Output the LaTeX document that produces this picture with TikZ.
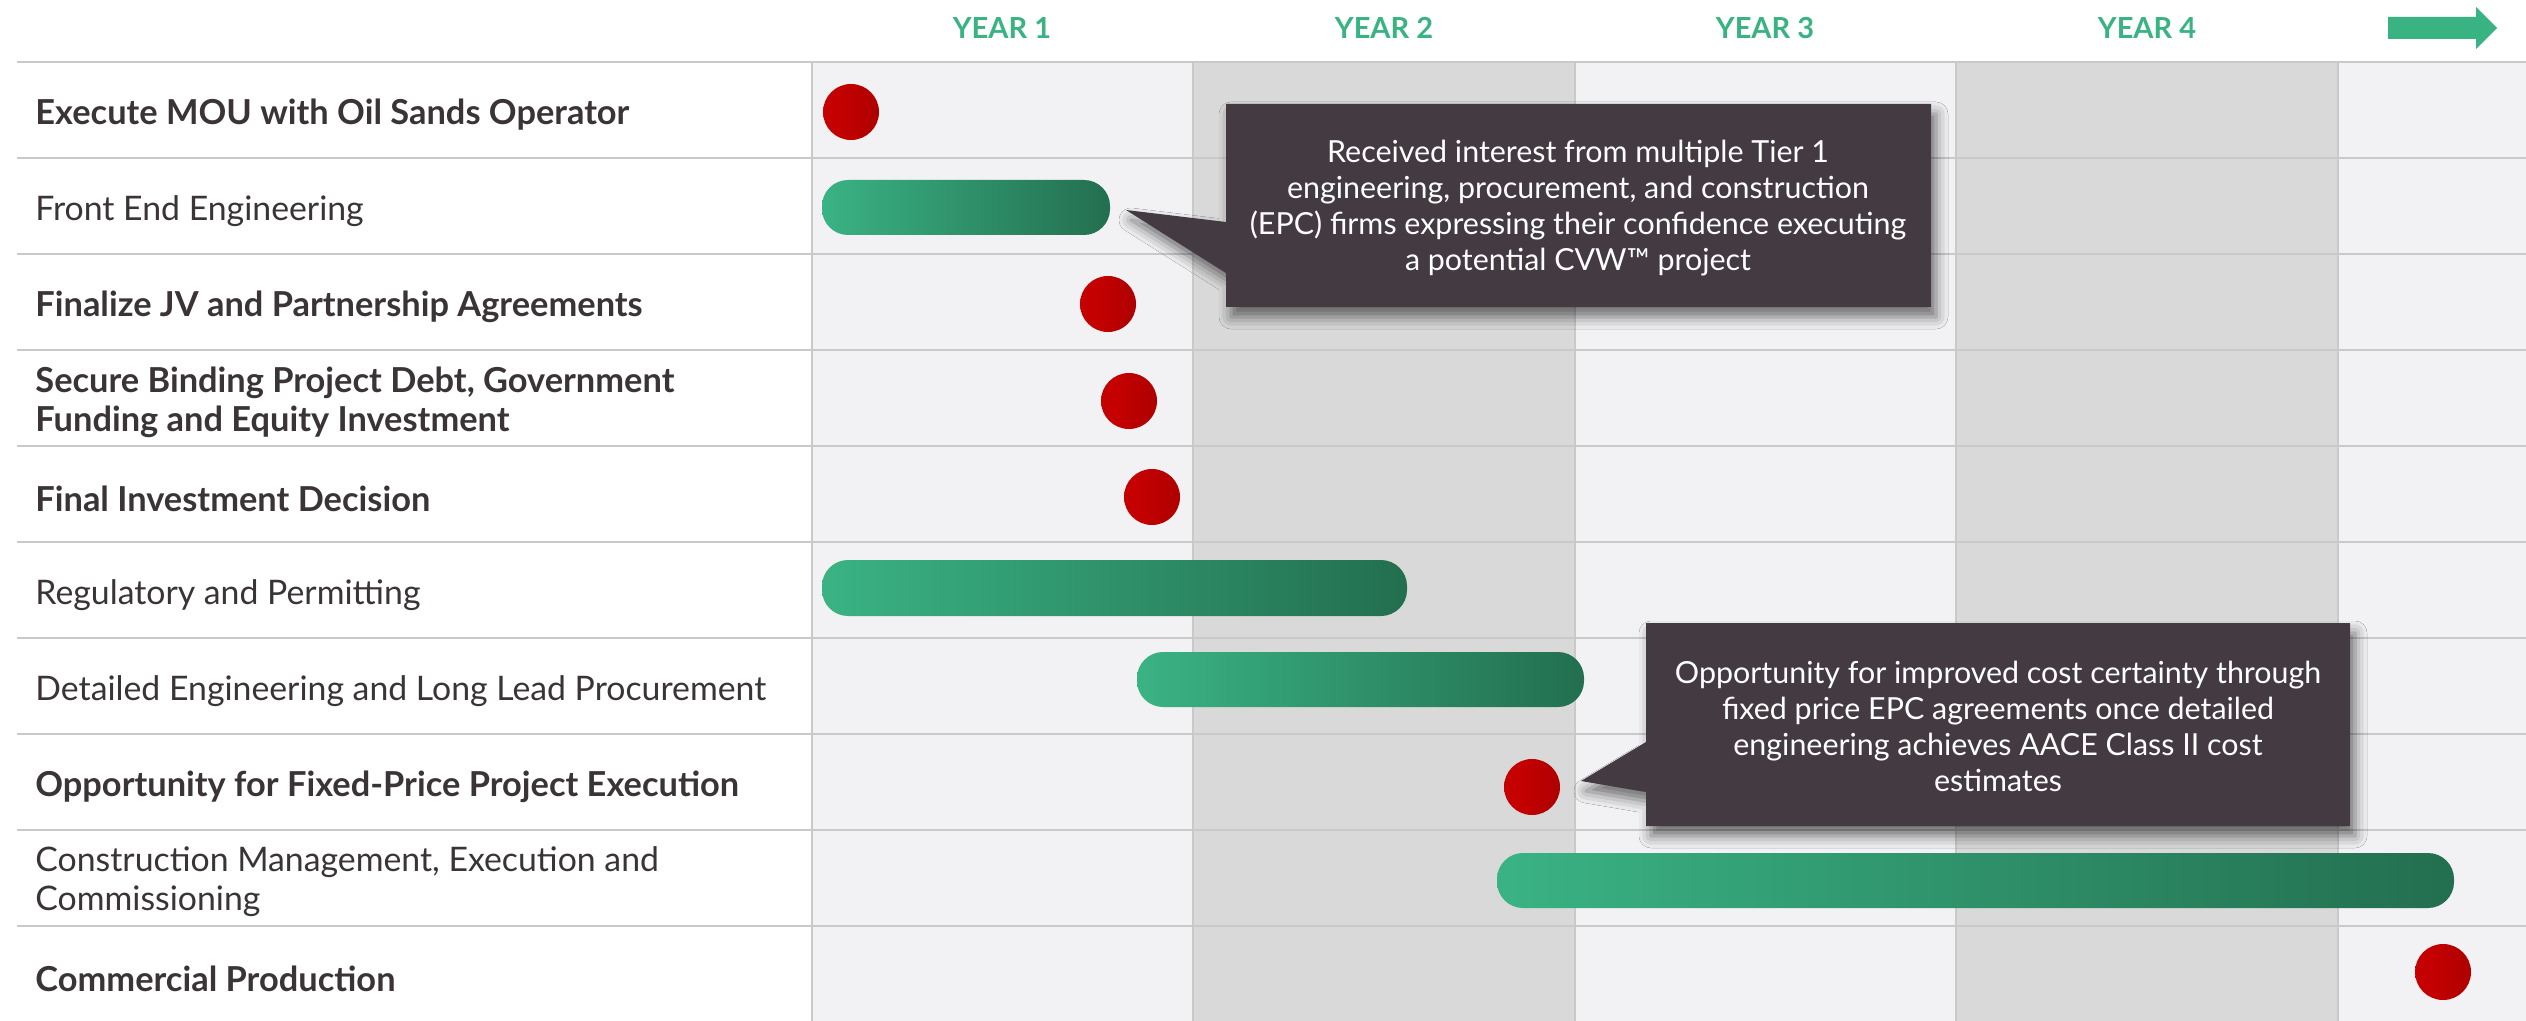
\documentclass[tikz,border=0pt]{standalone}
\usepackage{fontspec}
\setmainfont{Lato}
\usetikzlibrary{shadows.blur}

\definecolor{ink}{HTML}{3A3437}
\definecolor{gridline}{HTML}{C9C9C9}
\definecolor{colLight}{HTML}{F2F1F4}
\definecolor{colDark}{HTML}{D9D9D9}
\definecolor{accent}{HTML}{3AB383}
\definecolor{barA}{HTML}{3AB384}
\definecolor{barB}{HTML}{1C5A40}
\definecolor{dotA}{HTML}{C40000}
\definecolor{dotB}{HTML}{9E0000}
\definecolor{calloutfill}{HTML}{433A42}

\pgfdeclarehorizontalshading{barshade}{100bp}{color(0bp)=(barA); color(25bp)=(barA); color(90bp)=(barB); color(100bp)=(barB)}
\pgfdeclarehorizontalshading{dotshade}{100bp}{color(0bp)=(dotA); color(40bp)=(dotA); color(100bp)=(dotB)}

\tikzset{
  lbl/.style={anchor=west, inner sep=0pt, text=ink, align=left, yshift=-2.5pt,
    font=\fontsize{16.9}{19.5}\selectfont},
  lblbold/.style={lbl, font=\fontsize{17.2}{19.5}\selectfont\bfseries},
  yearlbl/.style={inner sep=0pt, text=accent, font=\fontsize{14.5}{16}\selectfont\bfseries},
  milestone/.style={circle, inner sep=0pt, minimum size=28pt, shading=dotshade},
  bar/.style={shading=barshade, rounded corners=13pt},
  gridrule/.style={draw=gridline, line width=1pt},
  calloutbox/.style={fill=calloutfill,
    blur shadow={shadow xshift=2.5pt, shadow yshift=-5pt, shadow blur radius=6pt, shadow opacity=55}},
  callouttext/.style={inner sep=0pt, text=white, align=center,
    font=\fontsize{15.2}{18}\selectfont},
}

\begin{document}
\begin{tikzpicture}[x=0.5pt, y=-0.5pt]
  \useasboundingbox (0,0) rectangle (2526,1021);
  \fill[white] (0,0) rectangle (2526,1021);

  % year columns
  \fill[colLight] (812,62) rectangle (1193,1021);
  \fill[colDark]  (1193,62) rectangle (1575,1021);
  \fill[colLight] (1575,62) rectangle (1956,1021);
  \fill[colDark]  (1956,62) rectangle (2338,1021);
  \fill[colLight] (2338,62) rectangle (2526,1021);

  % grid rules
  \foreach \gx in {812,1193,1575,1956,2338}
    \draw[gridrule] (\gx,62) -- (\gx,1021);
  \foreach \k in {0,...,9}
    \draw[gridrule] (17,62+96*\k) -- (2526,62+96*\k);

  % header
  \node[yearlbl] (y1) at (1002,28) {YEAR 1};
  \node[yearlbl] (y2) at (1384,28) {YEAR 2};
  \node[yearlbl] (y3) at (1765,28) {YEAR 3};
  \node[yearlbl] (y4) at (2147,28) {YEAR 4};
  \fill[accent] (2388,17) -- (2476,17) -- (2476,7) -- (2497,28) -- (2476,49) -- (2476,39) -- (2388,39) -- cycle;

  % task labels
  \node[lblbold] (r1)  at (35,110) {Execute MOU with Oil Sands Operator};
  \node[lbl]     (r2)  at (35,206) {Front End Engineering};
  \node[lblbold] (r3)  at (35,302) {Finalize JV and Partnership Agreements};
  \node[lblbold] (r4)  at (35,397) {Secure Binding Project Debt, Government\\Funding and Equity Investment};
  \node[lblbold] (r5)  at (35,494) {Final Investment Decision};
  \node[lbl]     (r6)  at (35,590) {Regulatory and Permitting};
  \node[lbl]     (r7)  at (35,686) {Detailed Engineering and Long Lead Procurement};
  \node[lblbold] (r8)  at (35,782) {Opportunity for Fixed-Price Project Execution};
  \node[lbl]     (r9)  at (35,877) {Construction Management, Execution and\\Commissioning};
  \node[lblbold] (r10) at (35,974) {Commercial Production};

  % activity bars
  \path[bar] (822,180) rectangle (1110,235);
  \path[bar] (822,560) rectangle (1407,616);
  \path[bar] (1137,652) rectangle (1584,707);
  \path[bar] (1497,853) rectangle (2454,908);

  % milestones
  \node[milestone] (m1) at (851,112) {};
  \node[milestone] (m3) at (1108,304) {};
  \node[milestone] (m4) at (1129,401) {};
  \node[milestone] (m5) at (1152,497) {};
  \node[milestone] (m8) at (1532,787) {};
  \node[milestone] (m10) at (2443,972) {};

  % callouts
  \path[calloutbox] (1226,104) -- (1931,104) -- (1931,307) -- (1226,307)
    -- (1226,273) -- (1126,210) -- (1226,222) -- cycle;
  \node[callouttext] (c1) at (1578,208) {Received interest from multiple Tier 1\\engineering, procurement, and construction\\(EPC) firms expressing their confidence executing\\a potential CVW™ project};

  \path[calloutbox] (1646,623) -- (2350,623) -- (2350,826) -- (1646,826)
    -- (1646,792) -- (1581,781) -- (1646,742) -- cycle;
  \node[callouttext] (c2) at (1998,726) {Opportunity for improved cost certainty through\\fixed price EPC agreements once detailed\\engineering achieves AACE Class II cost\\estimates};
\end{tikzpicture}
\end{document}
